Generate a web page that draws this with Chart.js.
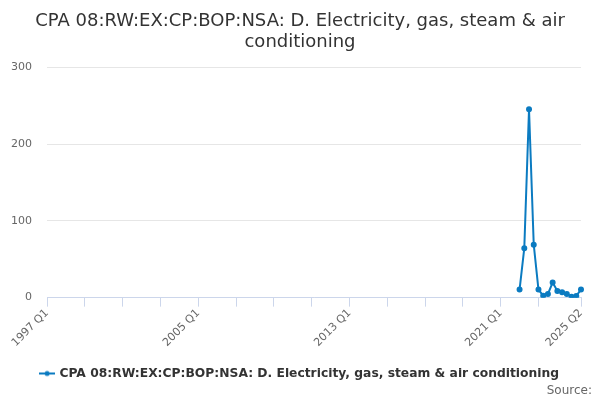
<!DOCTYPE html>
<html>
<head>
<meta charset="utf-8">
<script src="https://cdn.jsdelivr.net/npm/chart.js@4/dist/chart.umd.min.js"></script>
<style>
  html, body { margin: 0; padding: 0; background: #fff; }
  #wrap { width: 600px; height: 400px; }
</style>
</head>
<body>
<div id="wrap"><canvas id="chart"></canvas></div>
<script>
// quarters 1997 Q1 .. 2025 Q2
const quarters = [];
for (let y = 1997; y <= 2025; y++) {
  for (let q = 1; q <= 4; q++) {
    if (y === 2025 && q > 2) break;
    quarters.push(y + " Q" + q);
  }
}

const seriesName = "CPA 08:RW:EX:CP:BOP:NSA: D. Electricity, gas, steam & air conditioning";
const seriesDates = [
  "2022 Q1", "2022 Q2", "2022 Q3", "2022 Q4",
  "2023 Q1", "2023 Q2", "2023 Q3", "2023 Q4",
  "2024 Q1", "2024 Q2", "2024 Q3", "2024 Q4",
  "2025 Q1", "2025 Q2"
];
const seriesValues = [10.5, 64.5, 245.5, 69, 10.5, 2.5, 4.8, 19.6, 8.7, 7, 4.8, 1.3, 2.2, 10.5];
const yTicks = [0, 100, 200, 300];

const lineColor = "#0b7bc1";

// legend symbol: short line with a dot
const sym = document.createElement("canvas");
sym.width = 16; sym.height = 8;
const sctx = sym.getContext("2d");
sctx.strokeStyle = lineColor; sctx.lineWidth = 2;
sctx.beginPath(); sctx.moveTo(0, 4); sctx.lineTo(16, 4); sctx.stroke();
sctx.fillStyle = lineColor;
sctx.beginPath(); sctx.arc(8, 4, 2.5, 0, Math.PI * 2); sctx.fill();

const last = quarters.length - 1;

new Chart(document.getElementById("chart"), {
  type: "line",
  data: {
    labels: quarters,
    datasets: [{
      label: seriesName,
      data: seriesDates.map((d, i) => ({ x: d, y: seriesValues[i] })),
      borderColor: lineColor,
      backgroundColor: lineColor,
      borderWidth: 2,
      pointRadius: 2,
      pointHoverRadius: 3,
      tension: 0
    }]
  },
  options: {
    responsive: true,
    maintainAspectRatio: false,
    animation: false,
    layout: { padding: { left: 8, right: 8, top: 8, bottom: 2 } },
    plugins: {
      title: {
        display: true,
        text: ["CPA 08:RW:EX:CP:BOP:NSA: D. Electricity, gas, steam & air", "conditioning"],
        color: "#333333",
        font: { family: "DejaVu Sans", size: 18, weight: "normal", lineHeight: 1.15 },
        padding: { top: 3, bottom: 15 }
      },
      subtitle: {
        display: true,
        position: "bottom",
        align: "end",
        text: "Source:",
        color: "#666666",
        font: { family: "DejaVu Sans", size: 12, weight: "normal" },
        padding: { top: -6, bottom: 0 }
      },
      legend: {
        position: "bottom",
        labels: {
          color: "#333333",
          font: { family: "DejaVu Sans", size: 12.3, weight: "bold" },
          usePointStyle: true,
          generateLabels: (chart) => [{
            text: seriesName,
            pointStyle: sym,
            fontColor: "#333333",
            datasetIndex: 0,
            lineWidth: 0,
            strokeStyle: lineColor,
            fillStyle: lineColor
          }],
          padding: 0
        }
      },
      tooltip: { enabled: false }
    },
    scales: {
      x: {
        type: "category",
        afterBuildTicks: (scale) => {
          const t = [];
          for (let i = 0; i < last - 4; i += 8) t.push({ value: i });
          t.push({ value: last });
          scale.ticks = t;
        },
        afterFit: (scale) => { scale.height += 18; },
        ticks: {
          autoSkip: false,
          minRotation: 45,
          maxRotation: 45,
          color: "#666666",
          font: { family: "DejaVu Sans", size: 11 },
          padding: 0,
          callback: function (value) {
            if (value % 32 === 0 || value === last) return quarters[value];
            return "";
          }
        },
        grid: {
          drawOnChartArea: false,
          drawTicks: true,
          tickLength: 9,
          color: "#ccd6eb",
          lineWidth: 1
        },
        border: { display: true, color: "#ccd6eb", width: 1 }
      },
      y: {
        min: 0,
        max: 300,
        afterBuildTicks: (scale) => { scale.ticks = yTicks.map(v => ({ value: v })); },
        afterFit: (scale) => { scale.width = 39; },
        ticks: {
          color: "#666666",
          font: { family: "DejaVu Sans", size: 11 },
          padding: 15
        },
        grid: { color: "#e6e6e6", drawTicks: false, lineWidth: 1 },
        border: { display: false }
      },
      // empty right-hand gutter so the plot ends where the reference does
      yRight: {
        position: "right",
        display: true,
        afterFit: (scale) => { scale.width = 11; },
        ticks: { display: false },
        grid: { display: false, drawTicks: false },
        border: { display: false }
      }
    }
  }
});
</script>
</body>
</html>
